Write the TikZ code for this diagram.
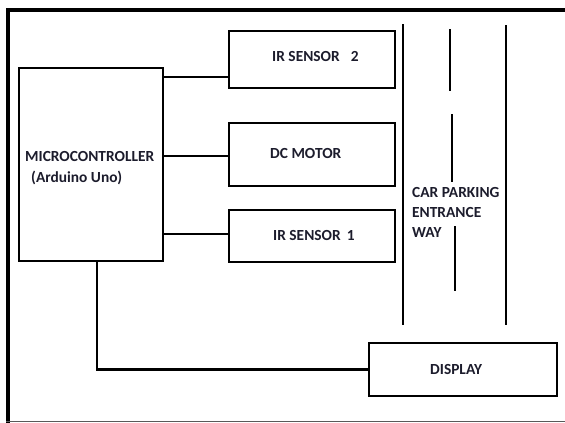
\documentclass[tikz,border=0pt]{standalone}
\usepackage{fontspec}
\setmainfont{Carlito}
\definecolor{txt}{HTML}{1C1C2C}
\begin{document}
\begin{tikzpicture}[x=1pt,y=-1pt,
  blk/.style={draw=black, line width=2.8pt, rectangle, inner sep=0pt},
  wire/.style={draw=black, line width=2.8pt},
  road/.style={draw=black, line width=2.8pt},
  lbl/.style={font=\fontsize{15.4}{20}\selectfont\bfseries, text=txt, inner sep=0pt}]
\useasboundingbox (0,0) rectangle (565,423);
% outer frame
\draw[line width=4.5pt, line cap=rect] (570,9.8) -- (8,9.8) -- (8,421);
\draw[color=black!65, line width=1.5pt] (6,421.7) -- (570,421.7);
% blocks
\node[blk, minimum width=144pt, minimum height=193pt] (mc) at (91,164.5) {};
\node[blk, minimum width=166pt, minimum height=57pt] (ir2) at (312,59.5) {};
\node[blk, minimum width=166pt, minimum height=63pt] (dc) at (312,154.5) {};
\node[blk, minimum width=166pt, minimum height=52pt] (ir1) at (312,236) {};
\node[blk, minimum width=188pt, minimum height=53pt] (disp) at (463,369.5) {};
% labels
\node[lbl, anchor=west] (tmc1) at (25,157) {MICROCONTROLLER};
\node[lbl, anchor=west] (tmc2) at (31,178) {(Arduino Uno)};
\node[lbl, anchor=west] (tir2) at (272,57) {IR SENSOR\hspace{11pt}2};
\node[lbl, anchor=west] (tdc) at (270,154) {DC MOTOR};
\node[lbl, anchor=west] (tir1) at (273,236) {IR SENSOR\hspace{6pt}1};
\node[lbl, anchor=west] (tdisp) at (430,369) {DISPLAY};
\node[lbl, anchor=west, align=left] (troad) at (412,212) {CAR PARKING\\ENTRANCE\\WAY};
% connectors
\coordinate (y1) at (0,77);
\coordinate (y2) at (0,156);
\coordinate (y3) at (0,234);
\coordinate (x1) at (97,0);
\draw[wire] (mc.east |- y1) -- (ir2.west |- y1);
\draw[wire] (mc.east |- y2) -- (dc.west |- y2);
\draw[wire] (mc.east |- y3) -- (ir1.west |- y3);
\draw[wire] (mc.south -| x1) |- (disp.west);
% road
\draw[road] (403,24) -- (403,325);
\draw[road] (506,25) -- (506,325);
\draw[road] (450,29) -- (450,91);
\draw[road] (452,114) -- (452,182);
\draw[road] (455,226) -- (455,291);
\end{tikzpicture}
\end{document}
